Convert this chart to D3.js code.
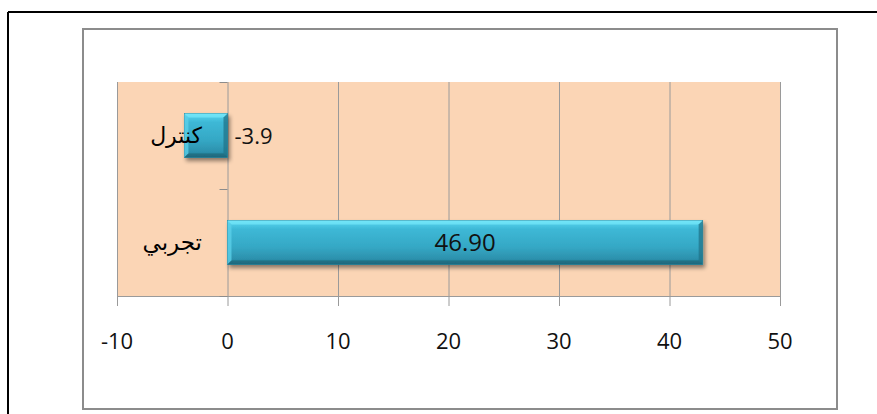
<!DOCTYPE html>
<html>
<head>
<meta charset="utf-8">
<script src="https://d3js.org/d3.v7.min.js"></script>
<style>
html,body{margin:0;padding:0;background:#fff;}
svg{display:block;}
</style>
</head>
<body>
<script>
const categories = ["کنترل", "تجربي"];
const values = [-3.9, 43];
const valueLabels = ["-3.9", "46.90"];
const xTicks = [-10, 0, 10, 20, 30, 40, 50];

const W = 877, H = 414;
const svg = d3.select("body").append("svg").attr("width", W).attr("height", H);

const defs = svg.append("defs");
const g1 = defs.append("linearGradient").attr("id", "barGrad").attr("x1", 0).attr("y1", 0).attr("x2", 0).attr("y2", 1);
[[0, "#8AF0FF"], [0.08, "#4FCBE6"], [0.2, "#3DB8D6"], [0.6, "#35A8C5"], [0.88, "#2C90AC"], [1, "#1D6478"]]
  .forEach(([o, c]) => g1.append("stop").attr("offset", o).attr("stop-color", c));
const f = defs.append("filter").attr("id", "shadow").attr("x", "-10%").attr("y", "-20%").attr("width", "130%").attr("height", "160%");
f.append("feGaussianBlur").attr("in", "SourceAlpha").attr("stdDeviation", 2.2).attr("result", "b");
f.append("feOffset").attr("in", "b").attr("dx", 2).attr("dy", 3).attr("result", "o");
f.append("feComponentTransfer").attr("in", "o").attr("result", "o2")
  .append("feFuncA").attr("type", "linear").attr("slope", 0.45);
const fm = f.append("feMerge");
fm.append("feMergeNode").attr("in", "o2");
fm.append("feMergeNode").attr("in", "SourceGraphic");

// outer border
svg.append("line").attr("x1", 8).attr("x2", W).attr("y1", 12).attr("y2", 12).attr("stroke", "#000").attr("stroke-width", 2);
svg.append("line").attr("x1", 8).attr("x2", 8).attr("y1", 12).attr("y2", H).attr("stroke", "#000").attr("stroke-width", 2);
// chart frame
svg.append("rect").attr("x", 83).attr("y", 29).attr("width", 754).attr("height", 380)
  .attr("fill", "#fff").attr("stroke", "#8c8c8c").attr("stroke-width", 2);

const x = d3.scaleLinear().domain([-10, 50]).range([117, 780]);
const y = d3.scaleBand().domain(categories).range([82, 296]).paddingInner(0.589).paddingOuter(0.2945);

// plot area
svg.append("rect").attr("x", x(-10)).attr("y", 82).attr("width", x(50) - x(-10)).attr("height", 296 - 82).attr("fill", "#FBD5B5");

// grid lines + ticks
svg.append("g").selectAll("line").data(xTicks).join("line")
  .attr("x1", d => x(d) + 0.5).attr("x2", d => x(d) + 0.5)
  .attr("y1", 82).attr("y2", 306)
  .attr("stroke", "#9a9a9a").attr("stroke-width", 1);
svg.append("line").attr("x1", x(-10)).attr("x2", x(50)).attr("y1", 296.5).attr("y2", 296.5).attr("stroke", "#9a9a9a");

// x tick labels
svg.append("g").selectAll("text").data(xTicks).join("text")
  .attr("x", d => x(d)).attr("y", 349)
  .attr("text-anchor", "middle")
  .attr("font-family", "Open Sans, sans-serif").attr("font-size", 22).attr("fill", "#111")
  .text(d => d);

// category axis at 0
const ticksY = [82, ...categories.map(c => y(c) + y.bandwidth() + y.step() * y.paddingInner() / 2)];
svg.append("g").selectAll("line").data(ticksY).join("line")
  .attr("x1", x(0) - 8).attr("x2", x(0)).attr("y1", d => Math.round(d) + 0.5).attr("y2", d => Math.round(d) + 0.5)
  .attr("stroke", "#8c8c8c");

// bars
const bars = svg.append("g").selectAll("g").data(categories).join("g").attr("filter", "url(#shadow)");
bars.each(function(c, i) {
  const gsel = d3.select(this);
  const x0 = x(Math.min(0, values[i])), x1 = x(Math.max(0, values[i]));
  const y0 = y(c), h = y.bandwidth(), w = x1 - x0;
  gsel.append("rect").attr("x", x0).attr("y", y0).attr("width", w).attr("height", h)
    .attr("fill", "url(#barGrad)").attr("stroke", "#2A8AA3").attr("stroke-width", 0.8);
  const b = 4;
  gsel.append("polygon").attr("points", [[x0, y0], [x1, y0], [x1 - b, y0 + b], [x0 + b, y0 + b]].join(" "))
    .attr("fill", "#6EE3F7").attr("opacity", 0.85);
  gsel.append("polygon").attr("points", [[x0, y0], [x0 + b, y0 + b], [x0 + b, y0 + h - b], [x0, y0 + h]].join(" "))
    .attr("fill", "#5ACFE8").attr("opacity", 0.8);
  gsel.append("polygon").attr("points", [[x1, y0], [x1, y0 + h], [x1 - b, y0 + h - b], [x1 - b, y0 + b]].join(" "))
    .attr("fill", "#21748A").attr("opacity", 0.75);
  gsel.append("polygon").attr("points", [[x0, y0 + h], [x1, y0 + h], [x1 - b, y0 + h - b], [x0 + b, y0 + h - b]].join(" "))
    .attr("fill", "#1F6B80").attr("opacity", 0.8);
});

// category labels
svg.append("g").selectAll("text").data(categories).join("text")
  .attr("x", 202).attr("y", c => y(c) + y.bandwidth() / 2 + 7)
  .attr("text-anchor", "end")
  .attr("font-family", "DejaVu Sans, sans-serif").attr("font-size", (c, i) => i === 0 ? 22 : 23).attr("fill", "#000")
  .text(c => c);

// value labels
svg.append("g").selectAll("text").data(categories).join("text")
  .attr("x", (c, i) => values[i] < 0 ? x(0) + 7 : (x(0) + x(values[i])) / 2)
  .attr("y", (c, i) => y(c) + y.bandwidth() / 2 + 8)
  .attr("text-anchor", (c, i) => values[i] < 0 ? "start" : "middle")
  .attr("font-family", "Open Sans, sans-serif").attr("font-size", (c, i) => values[i] < 0 ? 22 : 24).attr("fill", "#111")
  .text((c, i) => valueLabels[i]);
</script>
</body>
</html>
